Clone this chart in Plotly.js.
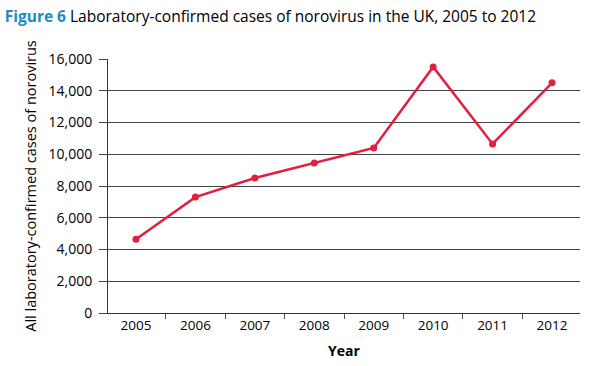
<!DOCTYPE html>
<html>
<head>
<meta charset="utf-8">
<script src="https://cdn.plot.ly/plotly-3.0.1.min.js"></script>
<style>html,body{margin:0;padding:0;background:#fff;}#chart{width:589px;height:366px;}</style>
</head>
<body>
<div id="chart"></div>
<script>
var years = ['2005','2006','2007','2008','2009','2010','2011','2012'];
var cases = [4650, 7300, 8500, 9450, 10400, 15500, 10650, 14500];
var yTickVals = [0, 2000, 4000, 6000, 8000, 10000, 12000, 14000, 16000];
var yTickText = ['0', '2,000', '4,000', '6,000', '8,000', '10,000', '12,000', '14,000', '16,000'];

var trace = {
  x: years,
  y: cases,
  type: 'scatter',
  mode: 'lines+markers',
  line: {color: '#e0203f', width: 2.5},
  marker: {color: '#e0203f', size: 7},
  hoverinfo: 'x+y'
};

var layout = {
  width: 589,
  height: 366,
  margin: {l: 108, r: 9, t: 59, b: 53},
  paper_bgcolor: '#fff',
  plot_bgcolor: '#fff',
  font: {family: 'Open Sans, Noto Sans, sans-serif', color: '#000', size: 12},
  showlegend: false,
  title: {
    text: '<b><span style="color:#1a8cc4">Figure 6</span></b> Laboratory-confirmed cases of norovirus in the UK, 2005 to 2012',
    font: {size: 15.5, color: '#000'},
    x: 0.008, xanchor: 'left',
    y: 0.955, yanchor: 'middle'
  },
  xaxis: {
    type: 'category',
    showgrid: false,
    showline: true,
    linecolor: '#333',
    linewidth: 1,
    ticks: 'outside',
    tickson: 'boundaries',
    ticklen: 5,
    tickcolor: '#555',
    tickfont: {size: 13.5},
    title: {text: '<b>Year</b>', font: {size: 14}, standoff: 12},
    zeroline: false,
    fixedrange: true
  },
  yaxis: {
    range: [0, 16000],
    tickvals: yTickVals,
    ticktext: yTickText,
    showgrid: true,
    gridcolor: '#444',
    gridwidth: 1,
    showline: true,
    linecolor: '#333',
    linewidth: 1,
    ticks: 'outside',
    ticklen: 8,
    tickcolor: '#444',
    tickfont: {size: 14},
    ticklabelstandoff: 4,
    title: {text: 'All laboratory-confirmed cases of norovirus', font: {size: 14.5}, standoff: 8},
    zeroline: false,
    fixedrange: true
  }
};

Plotly.newPlot('chart', [trace], layout, {displayModeBar: false, staticPlot: true});
</script>
</body>
</html>
